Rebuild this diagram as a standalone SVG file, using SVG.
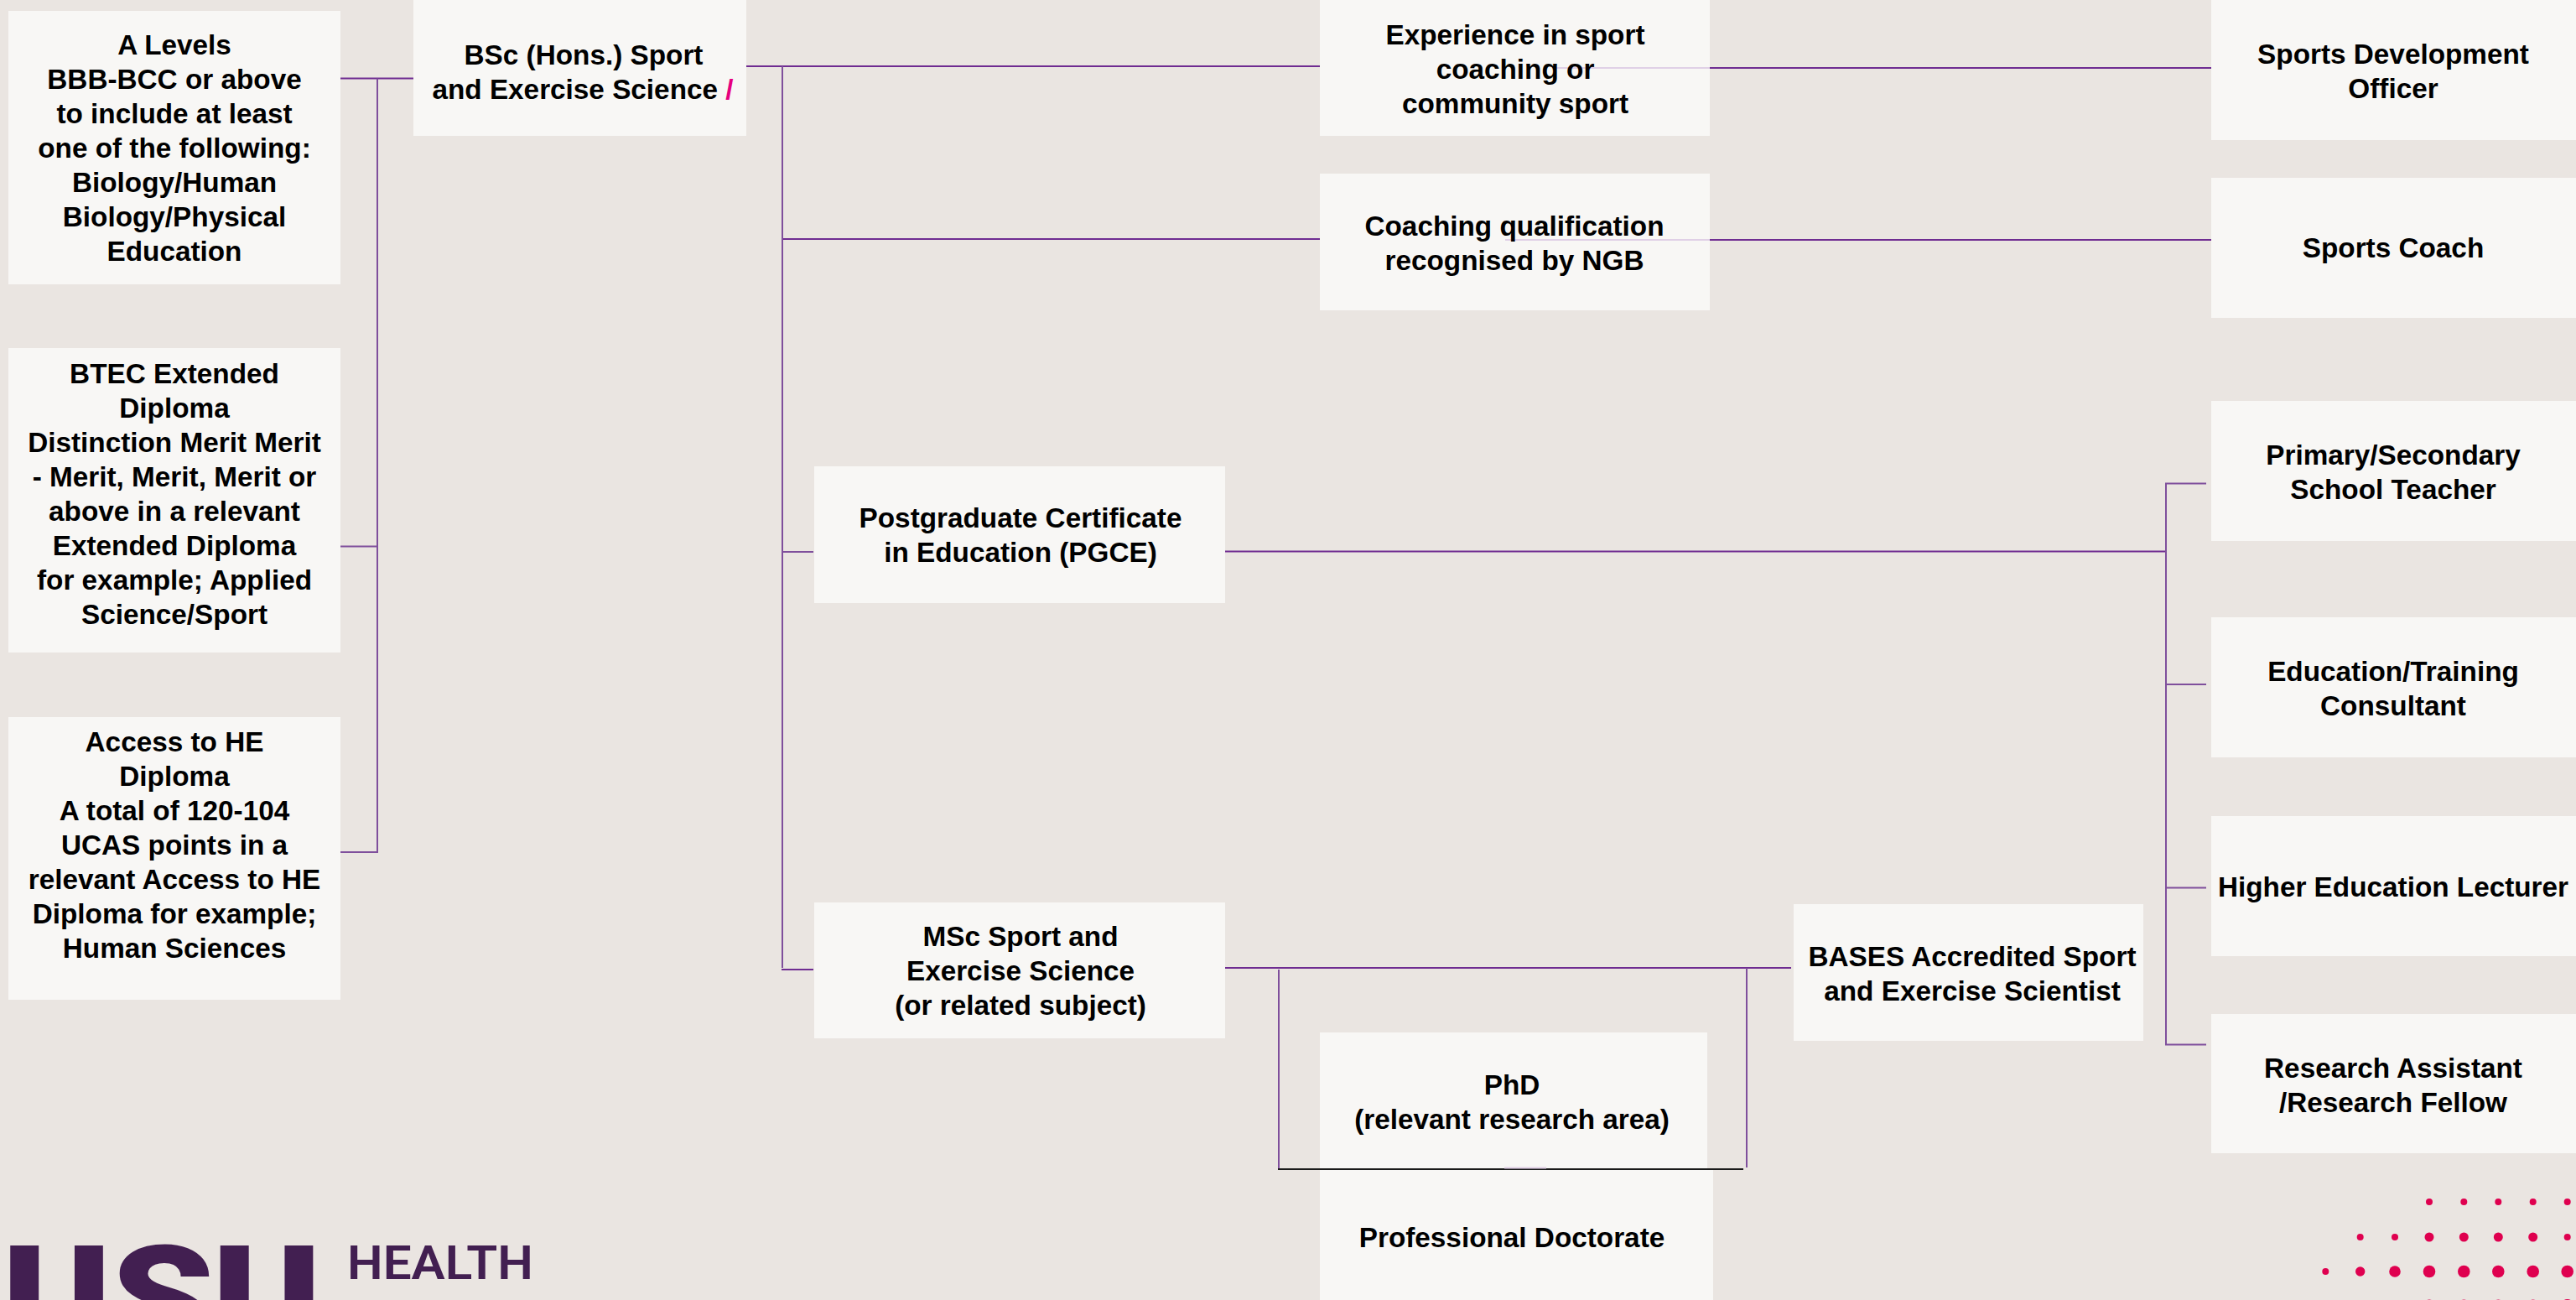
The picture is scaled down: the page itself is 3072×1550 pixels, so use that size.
<svg xmlns="http://www.w3.org/2000/svg" width="3072" height="1550" viewBox="0 0 3072 1550">
<style>
.box{fill:#f8f7f5}
.t{font-family:"Liberation Sans",Arial,sans-serif;font-weight:700;font-size:33.300px;fill:#000;text-anchor:middle}
.c{fill:none;stroke:#7f4f9c;stroke-width:2}
.d{fill:none;stroke:#6f2c91;stroke-width:2}
.k{fill:none;stroke:#1a1a1a;stroke-width:2}
.f{fill:none;stroke:#e0d0e6;stroke-width:2}
.dot{fill:#df004f}
</style>
<rect width="3072" height="1550" fill="#eae5e1"/>
<g id="node-alevels"><rect class="box" x="10" y="13" width="396" height="326"/><text class="t"><tspan x="208" y="65">A Levels</tspan><tspan x="208" y="106">BBB-BCC or above</tspan><tspan x="208" y="147">to include at least</tspan><tspan x="208" y="188">one of the following:</tspan><tspan x="208" y="229">Biology/Human</tspan><tspan x="208" y="270">Biology/Physical</tspan><tspan x="208" y="311">Education</tspan></text></g>
<g id="node-btec"><rect class="box" x="10" y="415" width="396" height="363"/><text class="t"><tspan x="208" y="457">BTEC Extended</tspan><tspan x="208" y="498">Diploma</tspan><tspan x="208" y="539">Distinction Merit Merit</tspan><tspan x="208" y="580">- Merit, Merit, Merit or</tspan><tspan x="208" y="621">above in a relevant</tspan><tspan x="208" y="662">Extended Diploma</tspan><tspan x="208" y="703">for example; Applied</tspan><tspan x="208" y="744">Science/Sport</tspan></text></g>
<g id="node-access"><rect class="box" x="10" y="855" width="396" height="337"/><text class="t"><tspan x="208" y="896">Access to HE</tspan><tspan x="208" y="937">Diploma</tspan><tspan x="208" y="978">A total of 120-104</tspan><tspan x="208" y="1019">UCAS points in a</tspan><tspan x="208" y="1060">relevant Access to HE</tspan><tspan x="208" y="1101">Diploma for example;</tspan><tspan x="208" y="1142">Human Sciences</tspan></text></g>
<g id="node-bsc"><rect class="box" x="493" y="0" width="397" height="162"/><text class="t"><tspan x="696" y="77">BSc (Hons.) Sport</tspan><tspan x="695" y="118">and Exercise Science <tspan fill="#e6007e">/</tspan></tspan></text></g>
<g id="node-experience"><rect class="box" x="1574" y="0" width="465" height="162"/><line class="f" x1="1856" y1="81" x2="2039" y2="81"/><text class="t"><tspan x="1807" y="53">Experience in sport</tspan><tspan x="1807" y="94">coaching or</tspan><tspan x="1807" y="135">community sport</tspan></text></g>
<g id="node-coaching"><rect class="box" x="1574" y="207" width="465" height="163"/><line class="f" x1="1795" y1="286" x2="2039" y2="286"/><text class="t"><tspan x="1806" y="281">Coaching qualification</tspan><tspan x="1806" y="322">recognised by NGB</tspan></text></g>
<g id="node-pgce"><rect class="box" x="971" y="556" width="490" height="163"/><text class="t"><tspan x="1217" y="629">Postgraduate Certificate</tspan><tspan x="1217" y="670">in Education (PGCE)</tspan></text></g>
<g id="node-msc"><rect class="box" x="971" y="1076" width="490" height="162"/><text class="t"><tspan x="1217" y="1128">MSc Sport and</tspan><tspan x="1217" y="1169">Exercise Science</tspan><tspan x="1217" y="1210">(or related subject)</tspan></text></g>
<g id="node-bases"><rect class="box" x="2139" y="1078" width="417" height="163"/><text class="t"><tspan x="2352" y="1152">BASES Accredited Sport</tspan><tspan x="2352" y="1193">and Exercise Scientist</tspan></text></g>
<g id="node-phd"><rect class="box" x="1574" y="1231" width="462" height="163"/><text class="t"><tspan x="1803" y="1305">PhD</tspan><tspan x="1803" y="1346">(relevant research area)</tspan></text></g>
<g id="node-profdoc"><rect class="box" x="1574" y="1394" width="469" height="156"/><text class="t" x="1803" y="1487">Professional Doctorate</text></g>
<g id="node-sdo"><rect class="box" x="2637" y="0" width="435" height="167"/><text class="t"><tspan x="2854" y="76">Sports Development</tspan><tspan x="2854" y="117">Officer</tspan></text></g>
<g id="node-coach"><rect class="box" x="2637" y="212" width="435" height="167"/><text class="t" x="2854" y="307">Sports Coach</text></g>
<g id="node-teacher"><rect class="box" x="2637" y="478" width="435" height="167"/><text class="t"><tspan x="2854" y="554">Primary/Secondary</tspan><tspan x="2854" y="595">School Teacher</tspan></text></g>
<g id="node-consultant"><rect class="box" x="2637" y="736" width="435" height="167"/><text class="t"><tspan x="2854" y="812">Education/Training</tspan><tspan x="2854" y="853">Consultant</tspan></text></g>
<g id="node-lecturer"><rect class="box" x="2637" y="973" width="435" height="167"/><text class="t" x="2854" y="1069">Higher Education Lecturer</text></g>
<g id="node-research"><rect class="box" x="2637" y="1209" width="435" height="166"/><text class="t"><tspan x="2854" y="1285">Research Assistant</tspan><tspan x="2854" y="1326">/Research Fellow</tspan></text></g>
<g id="connectors">
<path class="d" d="M406 93.500H493"/>
<path class="c" d="M450 93.500V1016M406 651.500H450M406 1016H451"/>
<path class="d" d="M890 79H1574M933 285H1574M970 1156H932"/>
<path class="c" d="M933 79V1154M933 658H970"/>
<path class="d" d="M2039 81H2637M2039 286H2637"/>
<path class="d" d="M1461 657.500H2583M1461 1154H2136"/>
<path class="c" d="M2583 576V1246M2582 576.500H2631M2583 816H2631M2583 1058.500H2631M2582 1245.500H2631"/>
<path class="c" d="M1525 1156V1394M2083 1154V1392"/>
<path class="k" d="M1524 1394H2079"/>
<path class="f" d="M1794 1392.500H1844"/>
</g>
<g id="logo">
<text transform="translate(0 1609) scale(1.130 1)" x="1.800 117 223.500" y="0" font-family="Roboto,sans-serif" font-weight="900" font-size="175" fill="#421f51">USU</text>
<text x="414" y="1525" font-family="Roboto,sans-serif" font-weight="600" font-size="55" fill="#421f51" textLength="222" lengthAdjust="spacingAndGlyphs">HEALTH</text>
</g>
<g id="dots">
<circle class="dot" cx="2897" cy="1433" r="4"/><circle class="dot" cx="2938.300" cy="1433" r="4"/><circle class="dot" cx="2979.300" cy="1433" r="4"/><circle class="dot" cx="3020.700" cy="1433" r="4"/><circle class="dot" cx="3061.700" cy="1433" r="4"/>
<circle class="dot" cx="2814.700" cy="1475" r="4"/><circle class="dot" cx="2856" cy="1475" r="4"/><circle class="dot" cx="2897" cy="1475" r="5.500"/><circle class="dot" cx="2938.300" cy="1475" r="5.500"/><circle class="dot" cx="2979.300" cy="1475" r="5.500"/><circle class="dot" cx="3020.700" cy="1475" r="5.500"/><circle class="dot" cx="3061.700" cy="1475" r="4"/>
<circle class="dot" cx="2773.300" cy="1516" r="4"/><circle class="dot" cx="2814.700" cy="1516" r="5.700"/><circle class="dot" cx="2856" cy="1516" r="6.800"/><circle class="dot" cx="2897" cy="1516" r="7.300"/><circle class="dot" cx="2938.300" cy="1516" r="7.300"/><circle class="dot" cx="2979.300" cy="1516" r="7.300"/><circle class="dot" cx="3020.700" cy="1516" r="7.300"/><circle class="dot" cx="3061.700" cy="1516" r="7.300"/>
<circle class="dot" cx="2897" cy="1557.500" r="8"/><circle class="dot" cx="2938.300" cy="1557.500" r="8"/><circle class="dot" cx="2979.300" cy="1557.500" r="8"/><circle class="dot" cx="3020.700" cy="1557.500" r="8"/><circle class="dot" cx="3061.700" cy="1557" r="8"/>
</g>
</svg>
